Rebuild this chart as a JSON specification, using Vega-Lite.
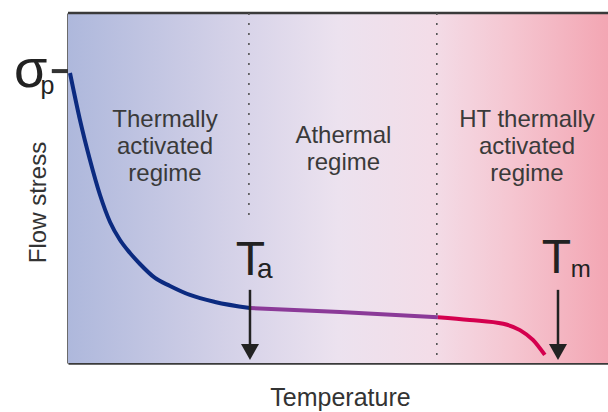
{
  "$schema": "https://vega.github.io/schema/vega-lite/v6.json",
  "width": 540,
  "height": 350,
  "autosize": "none",
  "padding": {"left": 68, "top": 13, "right": 0, "bottom": 49},
  "background": "white",
  "config": {"view": {"stroke": null}, "text": {"font": "Liberation Sans"}},
  "data": {"values": [{}]},
  "datasets": {
    "curve": [
      {"t": 0.37, "s": 82.86, "seg": "thermal"},
      {"t": 2.22, "s": 69.43, "seg": "thermal"},
      {"t": 4.07, "s": 58.0, "seg": "thermal"},
      {"t": 5.93, "s": 48.0, "seg": "thermal"},
      {"t": 7.78, "s": 40.29, "seg": "thermal"},
      {"t": 9.63, "s": 35.14, "seg": "thermal"},
      {"t": 11.48, "s": 31.43, "seg": "thermal"},
      {"t": 13.33, "s": 28.29, "seg": "thermal"},
      {"t": 16.11, "s": 24.29, "seg": "thermal"},
      {"t": 18.89, "s": 22.0, "seg": "thermal"},
      {"t": 22.59, "s": 19.43, "seg": "thermal"},
      {"t": 27.22, "s": 17.43, "seg": "thermal"},
      {"t": 33.7, "s": 15.71, "seg": "thermal"},
      {"t": 33.7, "s": 15.71, "seg": "athermal"},
      {"t": 50.4, "s": 14.6, "seg": "athermal"},
      {"t": 68.5, "s": 13.1, "seg": "athermal"},
      {"t": 68.5, "s": 13.1, "seg": "ht"},
      {"t": 74.4, "s": 12.3, "seg": "ht"},
      {"t": 80.6, "s": 11.2, "seg": "ht"},
      {"t": 83.7, "s": 9.4, "seg": "ht"},
      {"t": 86.1, "s": 6.6, "seg": "ht"},
      {"t": 88.3, "s": 2.3, "seg": "ht"}
    ],
    "regimes": [
      {"t": 17.96, "s": 67.4, "label": "Thermally\nactivated\nregime"},
      {"t": 51.0, "s": 62.9, "label": "Athermal\nregime"},
      {"t": 85.0, "s": 67.4, "label": "HT thermally\nactivated\nregime"}
    ],
    "arrows": [
      {"t": 33.7, "top": 20.9, "bottom": 4.9, "name": "Ta"},
      {"t": 90.74, "top": 20.9, "bottom": 4.9, "name": "Tm"}
    ],
    "bigT": [
      {"t": 33.8, "s": 25.1, "label": "T"},
      {"t": 90.46, "s": 25.7, "label": "T"}
    ],
    "subs": [
      {"t": 35.0, "s": 24.3, "label": "a", "fs": 28},
      {"t": 93.1, "s": 24.6, "label": "m", "fs": 24}
    ]
  },
  "layer": [
    {
      "mark": {
        "type": "rect",
        "fill": {
          "gradient": "linear", "x1": 0, "y1": 0, "x2": 1, "y2": 0,
          "stops": [
            {"offset": 0, "color": "#aeb8dc"},
            {"offset": 0.33, "color": "#d8d4e9"},
            {"offset": 0.5, "color": "#ece2ef"},
            {"offset": 0.67, "color": "#f3dde8"},
            {"offset": 0.82, "color": "#f5c6d1"},
            {"offset": 1, "color": "#f3a6b3"}
          ]
        }
      },
      "encoding": {
        "x": {
          "datum": 0, "type": "quantitative",
          "scale": {"domain": [0, 100], "nice": false, "zero": false},
          "axis": {
            "title": "Temperature", "labels": false, "ticks": false, "grid": false,
            "domainColor": "#3a3a3a", "domainWidth": 2.5,
            "titleFont": "Liberation Sans", "titleFontSize": 25, "titleFontWeight": "normal",
            "titleColor": "#333333", "titleX": 272, "titleY": 42,
            "titleAlign": "center", "titleBaseline": "alphabetic"
          }
        },
        "x2": {"datum": 100},
        "y": {
          "datum": 0, "type": "quantitative",
          "scale": {"domain": [0, 100], "nice": false, "zero": false},
          "axis": {
            "title": "Flow stress", "labels": false, "ticks": false, "grid": false,
            "domainColor": "#3a3a3a", "domainWidth": 2.5,
            "titleFont": "Liberation Sans", "titleFontSize": 24, "titleFontWeight": "normal",
            "titleColor": "#333333", "titleX": -30, "titleY": 189, "titleAngle": -90,
            "titleAlign": "center", "titleBaseline": "middle"
          }
        },
        "y2": {"datum": 100}
      }
    },
    {
      "mark": {"type": "rule", "color": "#3a3a3a", "strokeWidth": 2.5},
      "encoding": {"x": {"datum": 0}, "x2": {"datum": 100}, "y": {"datum": 100}}
    },
    {
      "mark": {"type": "rule", "color": "#555555", "strokeWidth": 1.6, "strokeDash": [2, 8]},
      "encoding": {"x": {"datum": 33.5}, "y": {"datum": 100}, "y2": {"datum": 40.3}}
    },
    {
      "mark": {"type": "rule", "color": "#555555", "strokeWidth": 1.6, "strokeDash": [2, 8]},
      "encoding": {"x": {"datum": 68.3}, "y": {"datum": 100}, "y2": {"datum": 0}}
    },
    {
      "data": {"name": "curve"},
      "mark": {"type": "line", "strokeWidth": 4, "interpolate": "monotone", "strokeCap": "butt"},
      "encoding": {
        "x": {"field": "t", "type": "quantitative"},
        "y": {"field": "s", "type": "quantitative"},
        "color": {
          "field": "seg", "type": "nominal", "legend": null,
          "scale": {"domain": ["thermal", "athermal", "ht"], "range": ["#0b2a80", "#8b3a98", "#d4004e"]}
        }
      }
    },
    {
      "mark": {"type": "rule", "color": "#333333", "strokeWidth": 4},
      "encoding": {"x": {"datum": -3}, "x2": {"datum": 0}, "y": {"datum": 83.4}}
    },
    {
      "data": {"name": "arrows"},
      "mark": {"type": "rule", "color": "#222222", "strokeWidth": 2.5},
      "encoding": {
        "x": {"field": "t", "type": "quantitative"},
        "y": {"field": "top", "type": "quantitative"},
        "y2": {"field": "bottom"}
      }
    },
    {
      "data": {"name": "arrows"},
      "mark": {"type": "point", "shape": "M-1,-0.9L1,-0.9L0,0.9Z", "size": 324, "filled": true, "color": "#222222", "opacity": 1},
      "encoding": {
        "x": {"field": "t", "type": "quantitative"},
        "y": {"datum": 3.14}
      }
    },
    {
      "data": {"name": "regimes"},
      "mark": {"type": "text", "fontSize": 24, "lineHeight": 27, "lineBreak": "\n", "align": "center", "baseline": "alphabetic", "color": "#3a3a3a"},
      "encoding": {
        "x": {"field": "t", "type": "quantitative"},
        "y": {"field": "s", "type": "quantitative"},
        "text": {"field": "label"}
      }
    },
    {
      "data": {"name": "bigT"},
      "mark": {"type": "text", "fontSize": 48, "align": "center", "baseline": "alphabetic", "color": "#222222"},
      "encoding": {
        "x": {"field": "t", "type": "quantitative"},
        "y": {"field": "s", "type": "quantitative"},
        "text": {"field": "label"}
      }
    },
    {
      "data": {"name": "subs"},
      "mark": {"type": "text", "align": "left", "baseline": "alphabetic", "color": "#222222"},
      "encoding": {
        "x": {"field": "t", "type": "quantitative"},
        "y": {"field": "s", "type": "quantitative"},
        "text": {"field": "label"},
        "size": {"field": "fs", "type": "quantitative", "scale": null}
      }
    },
    {
      "mark": {"type": "text", "fontSize": 54, "align": "center", "baseline": "alphabetic", "color": "#222222", "text": "σ"},
      "encoding": {"x": {"datum": -6.9}, "y": {"datum": 78.9}}
    },
    {
      "mark": {"type": "text", "fontSize": 25, "align": "left", "baseline": "alphabetic", "color": "#222222", "text": "p"},
      "encoding": {"x": {"datum": -5.1}, "y": {"datum": 76.9}}
    }
  ]
}
